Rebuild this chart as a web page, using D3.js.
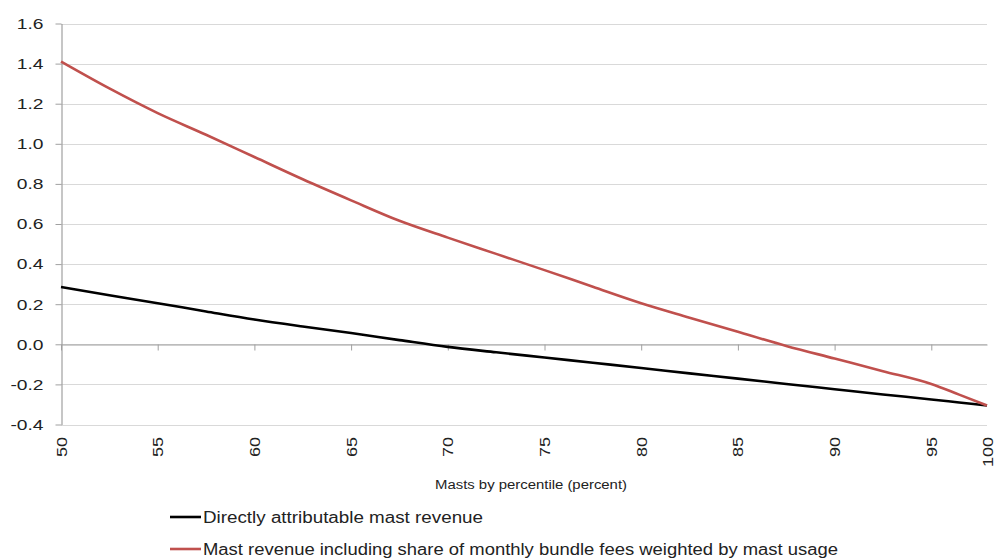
<!DOCTYPE html>
<html><head><meta charset="utf-8">
<script src="https://cdn.jsdelivr.net/npm/d3@7"></script>
<style>body{margin:0;background:#fff}svg{display:block}</style>
</head><body>
<svg id="c" width="998" height="559"></svg>
<script>
const percentiles = [50, 52.5, 55, 57.5, 60, 62.5, 65, 67.5, 70, 72.5, 75, 77.5, 80, 82.5, 85, 87.5, 90, 92.5, 95, 97.5, 100];
const directRevenue = [0.286, 0.245, 0.205, 0.164, 0.124, 0.089, 0.056, 0.021, -0.013, -0.040, -0.066, -0.092, -0.118, -0.145, -0.171, -0.198, -0.224, -0.250, -0.275, -0.290, -0.305];
const bundleRevenue = [1.41, 1.276, 1.153, 1.045, 0.934, 0.823, 0.718, 0.616, 0.532, 0.451, 0.370, 0.287, 0.205, 0.133, 0.062, -0.008, -0.071, -0.134, -0.198, -0.251, -0.305];
const yTicks = [-0.4, -0.2, 0.0, 0.2, 0.4, 0.6, 0.8, 1.0, 1.2, 1.4, 1.6];
const xTicks = [50, 55, 60, 65, 70, 75, 80, 85, 90, 95, 100];
const seriesNames = ["Directly attributable mast revenue", "Mast revenue including share of monthly bundle fees weighted by mast usage"];
const seriesColors = ["#000000", "#C0504D"];
const xTitle = "Masts by percentile (percent)";

const svg = d3.select("#c");
const font = "'Liberation Sans', Arial, sans-serif";
// category-style axis: labels every 5 percentiles, last category squeezed at the end
const x = d3.scaleLinear().domain([50, 95, 100]).range([61, 931.3, 987]);
const y = d3.scaleLinear().domain([-0.4, 1.6]).range([424.5, 23.5]);
const stretch = 1.28;

// gridlines
svg.append("g").selectAll("line").data(yTicks).join("line")
  .attr("x1", 61).attr("x2", 987)
  .attr("y1", d => Math.round(y(d)) + 0.5).attr("y2", d => Math.round(y(d)) + 0.5)
  .attr("stroke", "#d9d9d9").attr("stroke-width", 1.2);

// y axis
const ya = svg.append("g").attr("transform", "translate(61.5,0)")
  .call(d3.axisLeft(y).tickValues(yTicks).tickSize(6).tickSizeOuter(0).tickFormat(d3.format(".1f")));
ya.select(".domain").attr("stroke", "#a0a0a0").attr("stroke-width", 1.2);
ya.selectAll(".tick line").attr("stroke", "#a0a0a0");
ya.selectAll(".tick text").attr("font-family", font).attr("font-size", 15).attr("fill", "#222").attr("x", -18)
  .text(d => d3.format(".1f")(d).replace("\u2212", "-"))
  .each(function () {
    const w = this.getComputedTextLength();
    d3.select(this).attr("textLength", w * stretch).attr("lengthAdjust", "spacingAndGlyphs");
  });

// x axis at zero
const xa = svg.append("g").attr("transform", `translate(0,${Math.round(y(0)) + 0.5})`)
  .call(d3.axisBottom(x).tickValues(xTicks.filter(d => d < 100)).tickSize(6).tickSizeOuter(0).tickFormat(""));
xa.select(".domain").attr("stroke", "#a0a0a0").attr("stroke-width", 1.2);
xa.selectAll(".tick line").attr("stroke", "#a0a0a0");

// x tick labels rotated at bottom
svg.append("g").selectAll("text").data(xTicks).join("text")
  .attr("transform", d => `translate(${x(d) + 5.5},437) rotate(-90)`)
  .attr("text-anchor", "end")
  .attr("font-family", font).attr("font-size", 15).attr("fill", "#222")
  .text(d => d)
  .each(function () {
    const w = this.getComputedTextLength();
    d3.select(this).attr("textLength", w * 1.2).attr("lengthAdjust", "spacingAndGlyphs");
  });

// lines
const line = d3.line().x((d, i) => x(percentiles[i])).y(d => y(d)).curve(d3.curveMonotoneX);
[directRevenue, bundleRevenue].forEach((s, k) => {
  svg.append("path").datum(s).attr("d", line).attr("fill", "none")
    .attr("stroke", seriesColors[k]).attr("stroke-width", 2.6).attr("stroke-linejoin", "round");
});

// axis title
svg.append("text").attr("x", 531).attr("y", 489).attr("text-anchor", "middle")
  .attr("font-family", font).attr("font-size", 12).attr("fill", "#222")
  .attr("textLength", 192).attr("lengthAdjust", "spacingAndGlyphs")
  .text(xTitle);

// legend
const legY = [517, 549];
const legW = [280, 635];
seriesNames.forEach((n, k) => {
  svg.append("line").attr("x1", 170).attr("x2", 201).attr("y1", legY[k]).attr("y2", legY[k])
    .attr("stroke", seriesColors[k]).attr("stroke-width", 2.6);
  svg.append("text").attr("x", 203).attr("y", legY[k] + 5.5)
    .attr("font-family", font).attr("font-size", 16).attr("fill", "#222")
    .attr("textLength", legW[k]).attr("lengthAdjust", "spacingAndGlyphs")
    .text(n);
});
</script>
</body></html>
